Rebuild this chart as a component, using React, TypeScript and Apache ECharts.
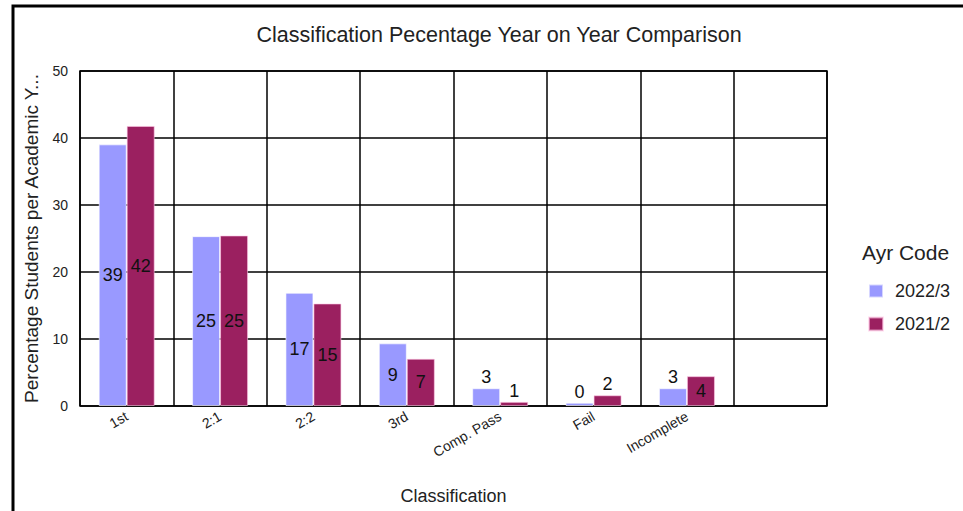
import React, { useEffect, useRef } from "react";
import * as echarts from "echarts";

const categories = ["1st", "2:1", "2:2", "3rd", "Comp. Pass", "Fail", "Incomplete", ""];
const series2022 = [39.05, 25.35, 16.9, 9.35, 2.65, 0.49, 2.65, null];
const series2021 = [41.8, 25.45, 15.3, 7.05, 0.62, 1.6, 4.45, null];
const seriesNames = ["2022/3", "2021/2"];
const yTicks = [0, 10, 20, 30, 40, 50];

const FONT = "'Liberation Sans', Arial, sans-serif";

function makeData(vals: (number | null)[]) {
  return vals.map((v) => {
    if (v === null) return null;
    return {
      value: v,
      label: {
        show: true,
        position: v >= 4 ? "inside" : "top",
        distance: 2,
        formatter: () => String(Math.round(v)),
        color: "#111",
        fontSize: 18,
        fontFamily: FONT,
      },
    };
  });
}

export default function App() {
  const ref = useRef<HTMLDivElement>(null);
  useEffect(() => {
    document.body.style.margin = "0";
    const chart = echarts.init(ref.current!, undefined, { renderer: "svg" });
    chart.setOption({
      animation: false,
      backgroundColor: "#fff",
      title: {
        text: "Classification Pecentage Year on Year Comparison",
        left: 494,
        top: 19,
        textAlign: "center",
        textStyle: { fontSize: 21.5, fontWeight: "normal", color: "#222", fontFamily: FONT },
      },
      legend: {
        orient: "vertical",
        left: 863,
        top: 277,
        itemWidth: 14,
        itemHeight: 13,
        itemGap: 15,
        icon: "rect",
        textStyle: { fontSize: 18, color: "#222", fontFamily: FONT, padding: [0, 0, 0, 7] },
        data: seriesNames,
      },
      graphic: [
        {
          type: "rect",
          shape: { x: 13, y: 6, width: 1200, height: 800 },
          style: { fill: "none", stroke: "#000", lineWidth: 3 },
          silent: true,
        },
        {
          type: "text",
          left: 862,
          top: 242,
          style: { text: "Ayr Code", fontSize: 21, fill: "#222", fontFamily: FONT },
        },
      ],
      grid: {
        left: 80,
        right: 136,
        top: 71,
        bottom: 105,
        show: true,
        borderColor: "#000",
        borderWidth: 1.5,
      },
      xAxis: {
        type: "category",
        data: categories,
        name: "Classification",
        nameLocation: "middle",
        nameGap: 81,
        nameTextStyle: { fontSize: 18, color: "#222", fontFamily: FONT },
        axisLine: { show: false },
        axisTick: { show: false },
        axisLabel: {
          rotate: 30,
          interval: 0,
          margin: 9,
          fontSize: 14,
          color: "#222",
          fontFamily: FONT,
        },
        splitLine: { show: true, interval: 0, lineStyle: { color: "#000", width: 1.5 } },
      },
      yAxis: {
        type: "value",
        min: yTicks[0],
        max: yTicks[yTicks.length - 1],
        interval: 10,
        name: "Percentage Students per Academic Y...",
        nameLocation: "middle",
        nameGap: 39,
        nameTextStyle: { fontSize: 19, color: "#222", fontFamily: FONT },
        axisLine: { show: false },
        axisTick: { show: false },
        axisLabel: { fontSize: 14, color: "#222", margin: 12, fontFamily: FONT },
        splitLine: { show: true, lineStyle: { color: "#000", width: 1.5 } },
      },
      series: [
        {
          name: seriesNames[0],
          type: "bar",
          barWidth: 28,
          barGap: "0%",
          itemStyle: { color: "#9999ff", borderColor: "rgba(255,255,255,0.6)", borderWidth: 1 },
          data: makeData(series2022),
        },
        {
          name: seriesNames[1],
          type: "bar",
          barWidth: 28,
          barGap: "0%",
          itemStyle: { color: "#9b2060", borderColor: "rgba(255,200,230,0.6)", borderWidth: 1 },
          data: makeData(series2021),
        },
      ],
    });
    return () => chart.dispose();
  }, []);
  return <div ref={ref} style={{ width: 963, height: 511 }} />;
}
